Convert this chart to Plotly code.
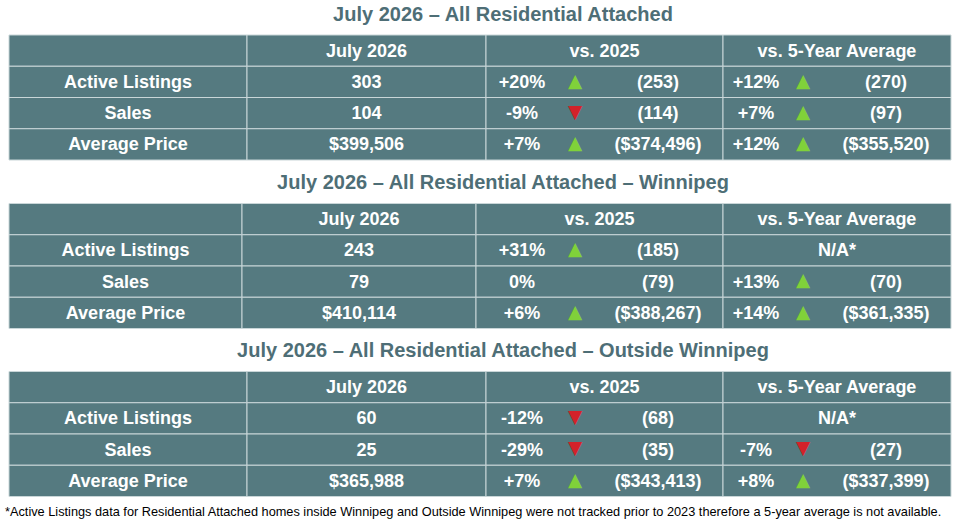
import plotly.graph_objects as go

# ---------------- data ----------------
titles = [
    "July 2026 – All Residential Attached",
    "July 2026 – All Residential Attached – Winnipeg",
    "July 2026 – All Residential Attached – Outside Winnipeg",
]
header = ["", "July 2026", "vs. 2025", "vs. 5-Year Average"]
row_labels = ["Active Listings", "Sales", "Average Price"]

current = [
    ["303", "104", "$399,506"],
    ["243", "79", "$410,114"],
    ["60", "25", "$365,988"],
]
yoy_pct = [
    ["+20%", "-9%", "+7%"],
    ["+31%", "0%", "+6%"],
    ["-12%", "-29%", "+7%"],
]
yoy_prior = [
    ["(253)", "(114)", "($374,496)"],
    ["(185)", "(79)", "($388,267)"],
    ["(68)", "(35)", "($343,413)"],
]
avg_pct = [
    ["+12%", "+7%", "+12%"],
    ["N/A*", "+13%", "+14%"],
    ["N/A*", "-7%", "+8%"],
]
avg_val = [
    ["(270)", "(97)", "($355,520)"],
    ["", "(70)", "($361,335)"],
    ["", "(27)", "($337,399)"],
]
footnote = ("*Active Listings data for Residential Attached homes inside Winnipeg and Outside "
            "Winnipeg were not tracked prior to 2023 therefore a 5-year average is not available.")

# ---------------- layout constants ----------------
W, H = 960, 527
table_tops = [35, 203.5, 371.5]
row_h = 31.25
col_edges = [
    [9, 247, 486, 723, 951],
    [9, 242, 476, 723, 951],
    [9, 247, 486, 723, 951],
]
title_x = 503
text_dy = 1.5
pct_off = [201, 195]   # distance of % text centre from column right edge (yoy, 5yr)
tri_off = 148
val_off = 65

FILL = "#557a80"
GRID = "#c9d6d8"
TITLE_C = "#4e6e76"
UP_C = "#80d13a"
DOWN_C = "#d3222a"
FONT = "Liberation Sans, Arial, sans-serif"

shapes = []
tx, ty, tt = [], [], []          # white cell text
trx, tr_y, trt, trc = [], [], [], []   # triangles
ttx, tty, ttt = [], [], []      # titles


def arrow(p):
    if p.startswith("+"):
        return "▲", UP_C
    if p.startswith("-"):
        return "▼", DOWN_C
    return None, None


for t in range(3):
    top = table_tops[t]
    edges = col_edges[t]
    ttx.append(title_x)
    tty.append(top - 19.5)
    ttt.append(titles[t])
    for r in range(4):
        y0 = top + r * row_h
        y1 = y0 + row_h
        yc = (y0 + y1) / 2 + text_dy
        for c in range(4):
            shapes.append(dict(type="rect", xref="x", yref="y", x0=edges[c], x1=edges[c + 1],
                               y0=y0, y1=y1, fillcolor=FILL, line=dict(color=GRID, width=1),
                               layer="below"))
        if r == 0:
            for c in range(1, 4):
                tx.append((edges[c] + edges[c + 1]) / 2)
                ty.append(yc)
                tt.append(header[c])
            continue
        i = r - 1
        tx += [(edges[0] + edges[1]) / 2, (edges[1] + edges[2]) / 2]
        ty += [yc, yc]
        tt += [row_labels[i], current[t][i]]
        # vs. previous year / vs. 5-year average
        for k, (pcts, vals) in enumerate([(yoy_pct, yoy_prior), (avg_pct, avg_val)]):
            left, right = edges[2 + k], edges[3 + k]
            p = pcts[t][i]
            v = vals[t][i]
            if v == "":
                tx.append((left + right) / 2)
                ty.append(yc)
                tt.append(p)
                continue
            tx += [right - pct_off[k], right - val_off]
            ty += [yc, yc]
            tt += [p, v]
            sym, col = arrow(p)
            if sym:
                trx.append(right - tri_off)
                tr_y.append(yc - text_dy)
                trt.append(sym)
                trc.append(col)

fig = go.Figure()
fig.add_trace(go.Scatter(x=tx, y=ty, text=tt, mode="text", hoverinfo="skip",
                         textposition="middle center",
                         textfont=dict(family=FONT, size=18, color="white", weight="bold")))
fig.add_trace(go.Scatter(x=trx, y=tr_y, text=trt, mode="text", hoverinfo="skip",
                         textposition="middle center",
                         textfont=dict(family="DejaVu Sans", size=18.5, color=trc)))
fig.add_trace(go.Scatter(x=ttx, y=tty, text=ttt, mode="text", hoverinfo="skip",
                         textposition="middle center",
                         textfont=dict(family=FONT, size=20, color=TITLE_C, weight="bold")))
fig.add_trace(go.Scatter(x=[5], y=[513], text=[footnote], mode="text", hoverinfo="skip",
                         textposition="middle right",
                         textfont=dict(family=FONT, size=12.75, color="black")))

fig.update_layout(
    width=W, height=H, margin=dict(l=0, r=0, t=0, b=0),
    paper_bgcolor="white", plot_bgcolor="white", showlegend=False,
    shapes=shapes,
    xaxis=dict(range=[0, W], visible=False, fixedrange=True),
    yaxis=dict(range=[H, 0], visible=False, fixedrange=True),
)
fig.write_html("out.html", config={"displayModeBar": False},
               post_script="document.body.style.margin='0';document.body.style.overflow='hidden';")
